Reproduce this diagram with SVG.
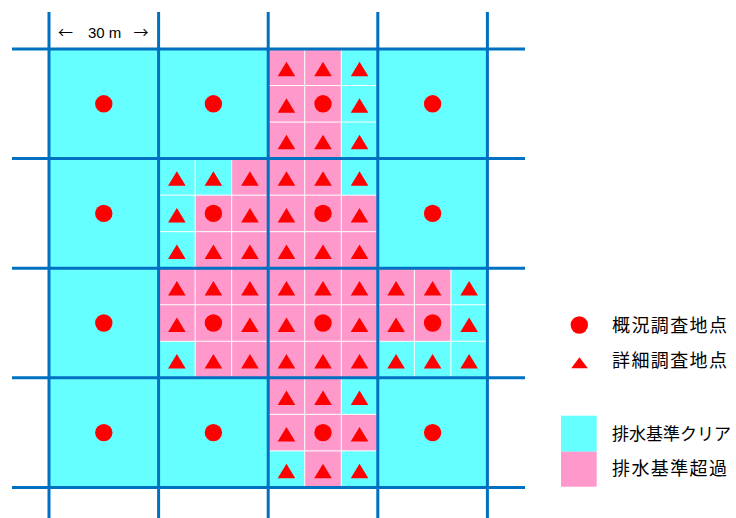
<svg xmlns="http://www.w3.org/2000/svg" xmlns:xlink="http://www.w3.org/1999/xlink" width="736" height="518" viewBox="0 0 736 518">
<style>
.cy{fill:#66FFFF}
.pk{fill:#FF99CC}
.sep{stroke:#FFFFFF;stroke-width:1;fill:none}
.grid line{stroke:#0070C0;stroke-width:3}
.lbl{font-family:"Noto Sans CJK JP","Noto Sans CJK SC",sans-serif;font-size:18px;fill:#000}
.scale{font-family:"Liberation Sans","DejaVu Sans",sans-serif;font-size:15px;fill:#000}
.arr{font-family:"Noto Sans CJK JP","DejaVu Sans",sans-serif;font-size:15px}
</style>
<defs>
<circle id="dot" r="8.7" fill="#FF0000"/>
<path id="tri" d="M0,-5.5L8.8,9L-8.8,9Z" fill="#FF0000"/>
<rect id="sub" width="36.53" height="36.53"/>
<path id="seps" class="sep" d="M36.53,0V109.6M73.07,0V109.6M0,36.53H109.6M0,73.07H109.6"/>
<g id="marks9">
<use xlink:href="#tri" x="18.27" y="18.27"/><use xlink:href="#tri" x="54.8" y="18.27"/><use xlink:href="#tri" x="91.33" y="18.27"/>
<use xlink:href="#tri" x="18.27" y="54.8"/><use xlink:href="#dot" x="54.8" y="54.8"/><use xlink:href="#tri" x="91.33" y="54.8"/>
<use xlink:href="#tri" x="18.27" y="91.33"/><use xlink:href="#tri" x="54.8" y="91.33"/><use xlink:href="#tri" x="91.33" y="91.33"/>
</g>
<g id="fullcell">
<rect class="cy" width="109.6" height="109.6"/>
<use xlink:href="#dot" x="54.8" y="54.8"/>
</g>
</defs>
<rect width="736" height="518" fill="#FFFFFF"/>

<g id="cells">
<g id="cell-r0c0" transform="translate(49,49)"><use xlink:href="#fullcell"/></g>
<g id="cell-r0c1" transform="translate(158.6,49)"><use xlink:href="#fullcell"/></g>
<g id="cell-r0c3" transform="translate(377.8,49)"><use xlink:href="#fullcell"/></g>
<g id="cell-r1c0" transform="translate(49,158.6)"><use xlink:href="#fullcell"/></g>
<g id="cell-r1c3" transform="translate(377.8,158.6)"><use xlink:href="#fullcell"/></g>
<g id="cell-r2c0" transform="translate(49,268.2)"><use xlink:href="#fullcell"/></g>
<g id="cell-r3c0" transform="translate(49,377.8)"><use xlink:href="#fullcell"/></g>
<g id="cell-r3c1" transform="translate(158.6,377.8)"><use xlink:href="#fullcell"/></g>
<g id="cell-r3c3" transform="translate(377.8,377.8)"><use xlink:href="#fullcell"/></g>

<g id="cell-r0c2" transform="translate(268.2,49)">
<rect class="cy" width="109.6" height="109.6"/>
<use xlink:href="#sub" class="pk" x="0" y="0"/><use xlink:href="#sub" class="pk" x="36.53" y="0"/>
<use xlink:href="#sub" class="pk" x="0" y="36.53"/><use xlink:href="#sub" class="pk" x="36.53" y="36.53"/>
<use xlink:href="#sub" class="pk" x="0" y="73.07"/><use xlink:href="#sub" class="pk" x="36.53" y="73.07"/>
<use xlink:href="#seps"/><use xlink:href="#marks9"/>
</g>
<g id="cell-r1c1" transform="translate(158.6,158.6)">
<rect class="cy" width="109.6" height="109.6"/>
<use xlink:href="#sub" class="pk" x="73.07" y="0"/>
<use xlink:href="#sub" class="pk" x="36.53" y="36.53"/><use xlink:href="#sub" class="pk" x="73.07" y="36.53"/>
<use xlink:href="#sub" class="pk" x="36.53" y="73.07"/><use xlink:href="#sub" class="pk" x="73.07" y="73.07"/>
<use xlink:href="#seps"/><use xlink:href="#marks9"/>
</g>
<g id="cell-r1c2" transform="translate(268.2,158.6)">
<rect class="pk" width="109.6" height="109.6"/>
<use xlink:href="#sub" class="cy" x="73.07" y="0"/>
<use xlink:href="#seps"/><use xlink:href="#marks9"/>
</g>
<g id="cell-r2c1" transform="translate(158.6,268.2)">
<rect class="pk" width="109.6" height="109.6"/>
<use xlink:href="#sub" class="cy" x="0" y="73.07"/>
<use xlink:href="#seps"/><use xlink:href="#marks9"/>
</g>
<g id="cell-r2c2" transform="translate(268.2,268.2)">
<rect class="pk" width="109.6" height="109.6"/>
<use xlink:href="#seps"/><use xlink:href="#marks9"/>
</g>
<g id="cell-r2c3" transform="translate(377.8,268.2)">
<rect class="cy" width="109.6" height="109.6"/>
<use xlink:href="#sub" class="pk" x="0" y="0"/><use xlink:href="#sub" class="pk" x="36.53" y="0"/>
<use xlink:href="#sub" class="pk" x="0" y="36.53"/><use xlink:href="#sub" class="pk" x="36.53" y="36.53"/>
<use xlink:href="#seps"/><use xlink:href="#marks9"/>
</g>
<g id="cell-r3c2" transform="translate(268.2,377.8)">
<rect class="cy" width="109.6" height="109.6"/>
<use xlink:href="#sub" class="pk" x="0" y="0"/><use xlink:href="#sub" class="pk" x="36.53" y="0"/>
<use xlink:href="#sub" class="pk" x="0" y="36.53"/><use xlink:href="#sub" class="pk" x="36.53" y="36.53"/><use xlink:href="#sub" class="pk" x="73.07" y="36.53"/>
<use xlink:href="#sub" class="pk" x="36.53" y="73.07"/>
<use xlink:href="#seps"/><use xlink:href="#marks9"/>
</g>
</g>

<g id="grid" class="grid">
<line x1="49" y1="12" x2="49" y2="518"/>
<line x1="158.6" y1="12" x2="158.6" y2="518"/>
<line x1="268.2" y1="12" x2="268.2" y2="518"/>
<line x1="377.8" y1="12" x2="377.8" y2="518"/>
<line x1="487.4" y1="12" x2="487.4" y2="518"/>
<line x1="12" y1="49" x2="525" y2="49"/>
<line x1="12" y1="158.6" x2="525" y2="158.6"/>
<line x1="12" y1="268.2" x2="525" y2="268.2"/>
<line x1="12" y1="377.8" x2="525" y2="377.8"/>
<line x1="12" y1="487.4" x2="525" y2="487.4"/>
</g>

<g id="scale-label">
<text class="scale" y="37.5"><tspan class="arr" x="58">←</tspan><tspan x="88">30 m</tspan><tspan class="arr" x="133.5">→</tspan></text>
</g>

<g id="legend">
<g id="legend-dot"><use xlink:href="#dot" x="579.3" y="325"/><text class="lbl" x="612" y="332" textLength="115" lengthAdjust="spacing">概況調査地点</text></g>
<g id="legend-tri"><path d="M579.5,357.3L587.8,368.3L571.2,368.3Z" fill="#FF0000"/><text class="lbl" x="612" y="367" textLength="115" lengthAdjust="spacing">詳細調査地点</text></g>
<g id="legend-clear"><rect class="cy" x="561" y="415.7" width="35.7" height="36"/><text class="lbl" x="612" y="440" style="font-size:17.5px" textLength="119" lengthAdjust="spacingAndGlyphs">排水基準クリア</text></g>
<g id="legend-over"><rect class="pk" x="561" y="451.7" width="35.7" height="35"/><text class="lbl" x="612" y="475" textLength="115" lengthAdjust="spacing">排水基準超過</text></g>
</g>
</svg>
